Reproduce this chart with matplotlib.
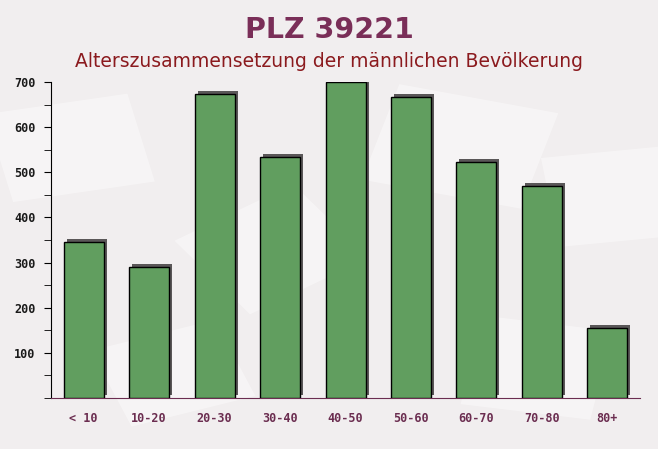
import matplotlib.pyplot as plt
import matplotlib.transforms as mtransforms
from matplotlib.patches import Rectangle
from matplotlib.ticker import MultipleLocator

categories = ["< 10", "10-20", "20-30", "30-40", "40-50", "50-60", "60-70", "70-80", "80+"]
values = [346, 291, 673, 533, 699, 666, 523, 470, 154]

BG = "#f1eeef"
BAR = "#619e5f"
SHADOW = "#5a5758"
PURPLE = "#6b2d50"

fig = plt.figure(figsize=(6.58, 4.49), dpi=100, facecolor=BG)

# faint envelope-like shapes in the background
for (x0, y0, w, h, ang) in [(0.02, 0.55, 0.22, 0.2, 12), (0.55, 0.6, 0.25, 0.22, -15),
                             (0.2, 0.05, 0.2, 0.18, 20), (0.7, 0.1, 0.2, 0.2, -10),
                             (0.38, 0.3, 0.22, 0.2, 35), (0.85, 0.45, 0.2, 0.2, 8)]:
    r = Rectangle((x0, y0), w, h, angle=ang, transform=fig.transFigure,
                  facecolor="white", alpha=0.4, edgecolor="none", zorder=-5)
    fig.patches.append(r)

ax = fig.add_axes([0.0775, 0.1136, 0.8953, 0.7038], zorder=2)
ax.patch.set_alpha(0)

x = list(range(len(categories)))
shadow = mtransforms.offset_copy(ax.transData, fig=fig, x=3, y=3, units="dots")
ax.bar(x, values, width=0.61, color=SHADOW, transform=shadow, zorder=2)
ax.bar(x, values, width=0.61, color=BAR, edgecolor="black", linewidth=1.0, zorder=3)

ax.set_xlim(-0.5, 8.5)
ax.set_ylim(0, 700)
ax.yaxis.set_minor_locator(MultipleLocator(50))
ax.set_yticks([100, 200, 300, 400, 500, 600, 700])
ax.set_xticks(x)
ax.set_xticklabels(categories)

for lab in ax.get_yticklabels():
    lab.set_family("DejaVu Sans Mono")
    lab.set_weight("bold")
    lab.set_size(8.5)
    lab.set_color("#1a1a1a")
for lab in ax.get_xticklabels():
    lab.set_family("DejaVu Sans Mono")
    lab.set_weight("bold")
    lab.set_size(8.5)
    lab.set_color(PURPLE)

ax.tick_params(axis="y", which="both", length=5, color="black", pad=6)
ax.tick_params(axis="x", length=0, pad=10)

for side in ("top", "right"):
    ax.spines[side].set_visible(False)
ax.spines["left"].set_color("black")
ax.spines["bottom"].set_color(PURPLE)

fig.text(0.5, 0.933, "PLZ 39221", ha="center", va="center",
         fontsize=20.5, fontweight="bold", color="#7a2e58")
fig.text(0.5, 0.862, "Alterszusammensetzung der männlichen Bevölkerung",
         ha="center", va="center", fontsize=13.5, color="#8b1a1e")

fig.savefig("out.png", dpi=100, facecolor=BG)
